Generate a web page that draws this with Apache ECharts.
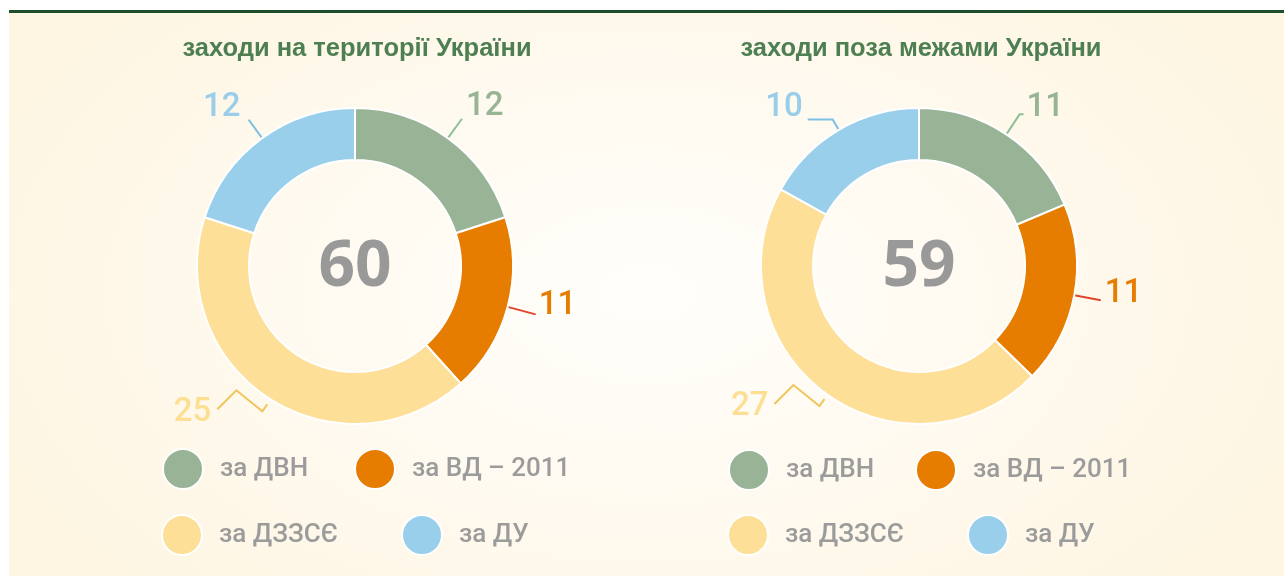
<!DOCTYPE html>
<html>
<head>
<meta charset="utf-8">
<title>Заходи</title>
<style>
  html, body { margin: 0; padding: 0; background: #fff; }
  #panel {
    position: absolute; left: 9px; top: 10px; width: 1275px; height: 563px;
    border-top: 3px solid #1d4d2b;
    background: radial-gradient(ellipse 55% 75% at 50% 50%, #fffefb 0%, #fffaf0 50%, #fef6e3 100%);
  }
  #main { position: absolute; left: 0; top: 0; width: 1284px; height: 576px; }
</style>
</head>
<body>
<div id="panel"></div>
<div id="main"></div>
<script src="https://cdn.jsdelivr.net/npm/echarts@6/dist/echarts.min.js"></script>
<script>
// data
var categories = ['за ДВН', 'за ВД – 2011', 'за ДЗЗСЄ', 'за ДУ'];
var insideValues = [12, 11, 25, 12];
var outsideValues = [11, 11, 27, 10];
var chartTitles = ['заходи на території України', 'заходи поза межами України'];

// styles
var colors = ['#99b396', '#e67c00', '#fedf97', '#9acfeb'];
var labelColors = ['#97b594', '#e67c00', '#fddf94', '#99cdea'];
var lineColors = ['#8fbf99', '#e0452b', '#f0c55c', '#7fc0e6'];

// per label: [length, length2, dx, dy]
var labelSetup = [
  [[24, 0, -1, -12], [29, 0, -2, -9], [14, 45, 0, 2], [23, 0, -3, -12]],
  [[24, 4, -2, -7], [27, 0, -1, -7], [14, 43, 0, 3], [12, 25, 0, -12]]
];
var centers = [[355, 266], [919, 266]];
var legendPos = [
  [[162, 448], [354, 448], [161, 514], [401, 514]],
  [[728, 449], [915, 449], [727, 514], [967, 514]]
];

function buildData(values, k) {
  return values.map(function (v, i) {
    var s = labelSetup[k][i];
    return {
      name: categories[i],
      value: v,
      itemStyle: { color: colors[i] },
      label: { color: labelColors[i] },
      labelLine: { length: s[0], length2: s[1], lineStyle: { color: lineColors[i], width: 2 } }
    };
  });
}

// nudge labels, keep guide lines; zigzag guide for the big yellow slice
function makeLayout(k) {
  return function (p) {
    var s = labelSetup[k][p.dataIndex];
    var out = { dx: s[2], dy: s[3], labelLinePoints: p.labelLinePoints };
    if (p.dataIndex === 2) {
      var r = p.labelRect;
      var ax = r.x + r.width + s[2], ay = r.y + r.height / 2 + s[3];
      out.labelLinePoints = [[ax + 56, ay - 8], [ax + 51, ay - 1], [ax + 25, ay - 22], [ax + 6, ay - 3]];
    }
    return out;
  };
}

function pieSeries(values, k) {
  return {
    type: 'pie',
    center: centers[k],
    radius: [106, 158],
    startAngle: 90,
    clockwise: true,
    avoidLabelOverlap: false,
    silent: true,
    itemStyle: { borderColor: '#fff', borderWidth: 2 },
    label: { show: true, position: 'outside', fontFamily: 'Roboto', fontWeight: 500, fontSize: 33, formatter: '{c}' },
    labelLine: { show: true },
    labelLayout: makeLayout(k),
    emphasis: { disabled: true },
    data: buildData(values, k)
  };
}

function sum(a) { return a.reduce(function (s, v) { return s + v; }, 0); }

var legends = [];
[0, 1].forEach(function (k) {
  categories.forEach(function (c, i) {
    legends.push({
      data: [c],
      left: legendPos[k][i][0],
      top: legendPos[k][i][1],
      padding: 0,
      icon: 'circle',
      itemWidth: 40,
      itemHeight: 40,
      selectedMode: false,
      textStyle: { color: '#9b9b9b', fontFamily: 'Roboto', fontWeight: 500, fontSize: 26, padding: [0, 0, 0, 12] }
    });
  });
});

var texts = [];
[insideValues, outsideValues].forEach(function (vals, k) {
  texts.push({
    type: 'text', x: centers[k][0] + 2, y: 49,
    style: { text: chartTitles[k], font: 'bold 25.5px "Liberation Sans"', fill: '#4e7f52',
      align: 'center', verticalAlign: 'middle', textAlign: 'center', textVerticalAlign: 'middle' }
  });
  texts.push({
    type: 'text', x: centers[k][0], y: 268,
    style: { text: String(sum(vals)), font: 'bold 64px "Open Sans"', fill: '#999999',
      align: 'center', verticalAlign: 'middle', textAlign: 'center', textVerticalAlign: 'middle' }
  });
});

var myChart = echarts.init(document.getElementById('main'));
myChart.setOption({
  animation: false,
  legend: legends,
  graphic: texts,
  series: [pieSeries(insideValues, 0), pieSeries(outsideValues, 1)]
});
</script>
</body>
</html>
